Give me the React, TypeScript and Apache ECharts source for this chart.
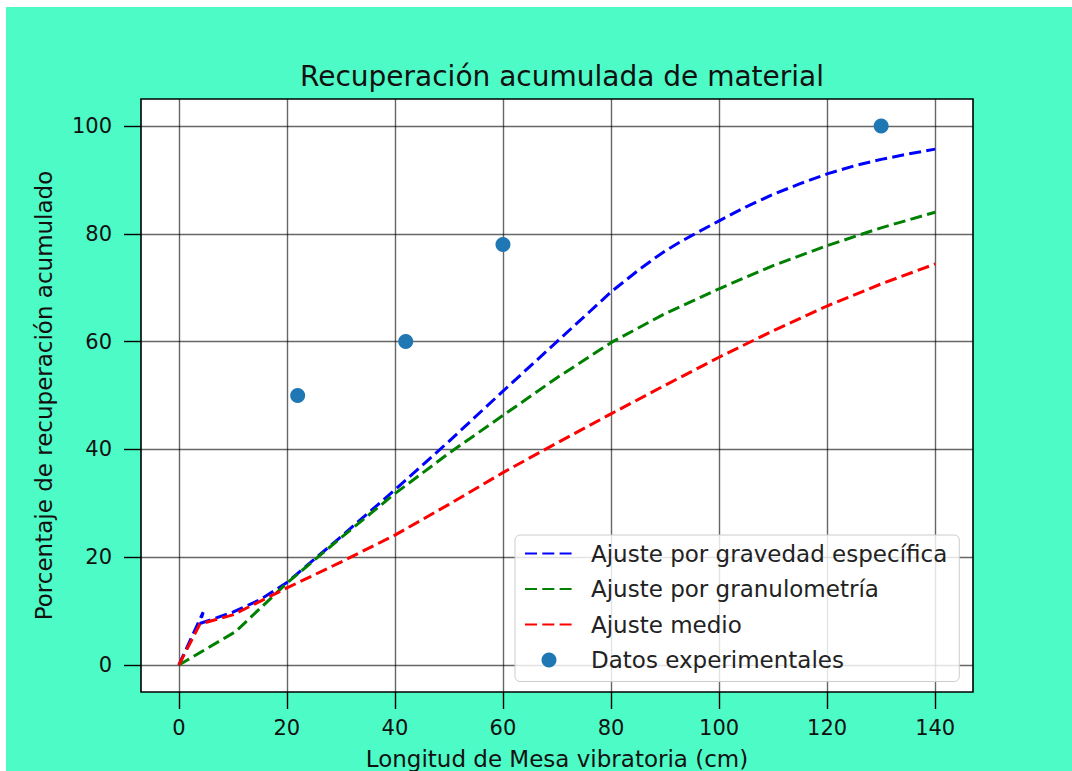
import React, { useEffect, useRef } from "react";
import * as echarts from "echarts";

// Fitted curves (x in cm, y in % recovered)
const gravX = [0, 4.5, 3.9, 10, 15, 20, 30, 40, 50, 60, 65, 70, 75, 80, 85, 88, 90, 93, 95, 100, 105, 110, 115, 120, 125, 130, 135, 140];
const gravY = [0, 9.8, 7.7, 9.8, 12.1, 15.3, 23.8, 32.5, 41.5, 50.8, 55.4, 60.0, 64.6, 69.2, 73.2, 75.4, 76.8, 78.6, 79.7, 82.4, 85.0, 87.3, 89.3, 91.1, 92.6, 93.8, 94.8, 95.7];

const granX = [0, 10.5, 20, 30, 40, 50, 60, 70, 80, 90, 100, 110, 120, 130, 140];
const granY = [0, 6.2, 15.2, 23.6, 31.8, 39.3, 46.3, 53.3, 59.8, 65.2, 69.8, 74.1, 77.8, 81.1, 84.0];

const medioX = [0, 3.9, 10, 20, 30, 40, 50, 60, 70, 80, 90, 100, 110, 120, 130, 140];
const medioY = [0, 7.6, 9.3, 14.3, 19.1, 24.1, 29.8, 35.7, 41.2, 46.6, 51.9, 57.1, 62.0, 66.6, 70.7, 74.4];

// Measured points
const expX = [22, 42, 60, 130];
const expY = [50, 60, 78, 100];

const xTicks = [0, 20, 40, 60, 80, 100, 120, 140];
const yTicks = [0, 20, 40, 60, 80, 100];

const pairs = (xs: number[], ys: number[]) => xs.map((x, i) => [x, ys[i]]);

const FONT = "DejaVu Sans";
const dash = [12, 5.3];

export default function App() {
  const ref = useRef<HTMLDivElement>(null);

  useEffect(() => {
    document.body.style.margin = "0";
    if (!ref.current) return;
    const chart = echarts.init(ref.current, undefined, { renderer: "svg" });

    const lineSeries = (name: string, color: string, xs: number[], ys: number[]) => ({
      name,
      type: "line",
      data: pairs(xs, ys),
      symbol: "none",
      smooth: false,
      lineStyle: { color, width: 3, type: dash },
      itemStyle: { color },
      z: 3,
    });

    const tick = (values: number[]) => ({
      show: true,
      inside: false,
      length: 17,
      lineStyle: { color: "#000", width: 1.4 },
      customValues: values,
    });

    chart.setOption({
      animation: false,
      backgroundColor: "#4dfbc6",
      textStyle: { fontFamily: FONT },
      title: {
        text: "Recuperación acumulada de material",
        left: 551,
        textAlign: "center",
        top: 50,
        textStyle: { fontFamily: FONT, fontSize: 28, fontWeight: "normal", color: "#111" },
      },
      grid: {
        left: 135,
        top: 92,
        right: 99,
        bottom: 79,
        show: true,
        containLabel: false,
        outerBoundsMode: "none",
        backgroundColor: "#ffffff",
        borderColor: "#000",
        borderWidth: 1.6,
      },
      xAxis: {
        type: "value",
        min: -7,
        max: 147,
        name: "Longitud de Mesa vibratoria (cm)",
        nameLocation: "middle",
        nameGap: 55,
        nameTextStyle: { fontFamily: FONT, fontSize: 23, color: "#111" },
        axisLine: { show: false, onZero: false },
        axisTick: tick(xTicks),
        axisLabel: {
          fontFamily: FONT,
          fontSize: 21,
          color: "#111",
          margin: 25,
          customValues: xTicks,
        },
        splitLine: { show: true, lineStyle: { color: "rgba(0,0,0,0.6)", width: 1.4 } },
      },
      yAxis: {
        type: "value",
        min: -5,
        max: 105,
        name: "Porcentaje de recuperación acumulado",
        nameLocation: "middle",
        nameGap: 86,
        nameRotate: 90,
        nameTextStyle: { fontFamily: FONT, fontSize: 23, color: "#111" },
        axisLine: { show: false, onZero: false },
        axisTick: tick(yTicks),
        axisLabel: {
          fontFamily: FONT,
          fontSize: 21,
          color: "#111",
          margin: 29,
          customValues: yTicks,
        },
        splitLine: { show: true, lineStyle: { color: "rgba(0,0,0,0.6)", width: 1.4 } },
      },
      legend: {
        orient: "vertical",
        left: 509,
        top: 528,
        itemWidth: 48,
        itemHeight: 15,
        itemGap: 8.5,
        padding: [5, 12, 8, 9],
        backgroundColor: "rgba(255,255,255,0.82)",
        borderColor: "#cccccc",
        borderWidth: 1,
        borderRadius: 5,
        textStyle: {
          fontFamily: FONT,
          fontSize: 23,
          lineHeight: 27,
          color: "#222",
          padding: [0, 0, 0, 13],
        },
        data: [
          { name: "Ajuste por gravedad específica", itemStyle: { opacity: 0 } },
          { name: "Ajuste por granulometría", itemStyle: { opacity: 0 } },
          { name: "Ajuste medio", itemStyle: { opacity: 0 } },
          { name: "Datos experimentales", icon: "circle" },
        ],
      },
      series: [
        lineSeries("Ajuste por gravedad específica", "#0000ff", gravX, gravY),
        lineSeries("Ajuste por granulometría", "#008000", granX, granY),
        lineSeries("Ajuste medio", "#ff0000", medioX, medioY),
        {
          name: "Datos experimentales",
          type: "scatter",
          data: pairs(expX, expY),
          symbol: "circle",
          symbolSize: 15,
          itemStyle: { color: "#1f77b4", opacity: 1 },
          z: 4,
        },
      ],
    });

    return () => chart.dispose();
  }, []);

  return (
    <div style={{ position: "relative", width: 1072, height: 771, background: "#ffffff", overflow: "hidden" }}>
      <div ref={ref} style={{ position: "absolute", left: 6, top: 7, width: 1066, height: 764 }} />
    </div>
  );
}
